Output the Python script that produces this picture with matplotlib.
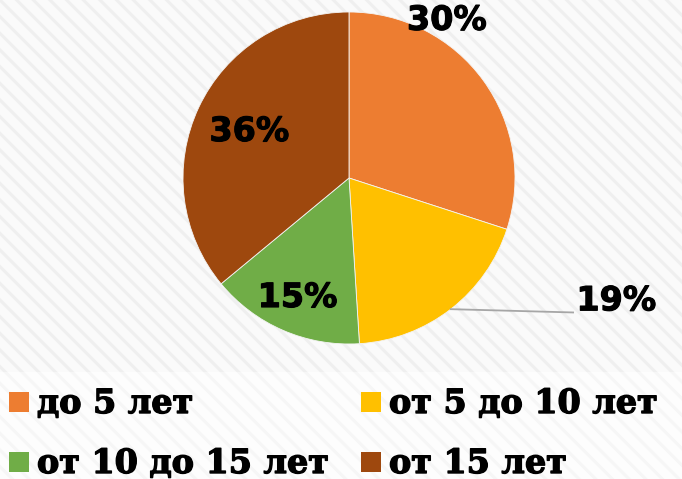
import matplotlib.pyplot as plt
import matplotlib.patches as mpatches
import matplotlib.patheffects as pe
import numpy as np

categories = ["до 5 лет", "от 5 до 10 лет", "от 10 до 15 лет", "от 15 лет"]
shares = [30, 19, 15, 36]
colors = ["#ED7D31", "#FFC000", "#70AD47", "#9E480E"]

# label offsets from pie centre, in units of the radius
label_pos = [(0.59, 0.95), (1.37, -0.74), (-0.31, -0.72), (-0.60, 0.28)]
label_ha = ["center", "left", "center", "center"]

W, H = 682, 479
fig = plt.figure(figsize=(W / 100, H / 100), dpi=100)
fig.patch.set_facecolor("white")

ax = fig.add_axes([0, 0, 1, 1])

# faint diagonal striped background
plt.rcParams["hatch.linewidth"] = 2.2
ax.add_patch(mpatches.Rectangle((0, H - 372), W, 372, facecolor="#fafafa",
                                edgecolor="#efefef", hatch="\\\\", lw=0, zorder=0))
ax.add_patch(mpatches.Rectangle((0, 0), W, H - 372, facecolor="#fdfdfd",
                                edgecolor="#f6f6f6", hatch="\\\\", lw=0, zorder=0))

cx, cy, R = 349, H - 178, 166
wedges, _ = ax.pie(shares, colors=colors, startangle=90, counterclock=False,
                   center=(cx, cy), radius=R, frame=True,
                   wedgeprops=dict(edgecolor="#f4f4f4", linewidth=0.6))

bold_pct = [pe.withStroke(linewidth=0.8, foreground="black")]
for w, s, (dx, dy), ha in zip(wedges, shares, label_pos, label_ha):
    ax.text(cx + dx * R, cy + dy * R, f"{s}%", ha=ha, va="center",
            fontsize=24, fontweight="bold", family="DejaVu Sans", color="black",
            zorder=5, path_effects=bold_pct)

# leader line for the 19% label
w = wedges[1]
mid = np.deg2rad((w.theta1 + w.theta2) / 2)
ax.plot([cx + R * np.cos(mid), cx + 1.35 * R], [cy + R * np.sin(mid), cy - 0.81 * R],
        color="#a6a6a6", lw=1.3, zorder=4)

# legend
leg_x = [9, 361]
leg_y = [H - 412, H - 472]
thick = [pe.withStroke(linewidth=1.0, foreground="black")]
for i, (name, c) in enumerate(zip(categories, colors)):
    x0 = leg_x[i % 2]
    y0 = leg_y[i // 2]
    ax.add_patch(mpatches.Rectangle((x0, y0), 20, 20, facecolor=c, lw=0, zorder=3))
    ax.text(x0 + 28, y0 - 1, name, ha="left", va="baseline", fontsize=24,
            fontweight="bold", family="DejaVu Serif", color="black", zorder=5,
            path_effects=thick)

ax.set_xlim(0, W)
ax.set_ylim(0, H)
ax.set_aspect("equal")
ax.axis("off")

fig.savefig("out.png", dpi=100, facecolor=fig.get_facecolor())
